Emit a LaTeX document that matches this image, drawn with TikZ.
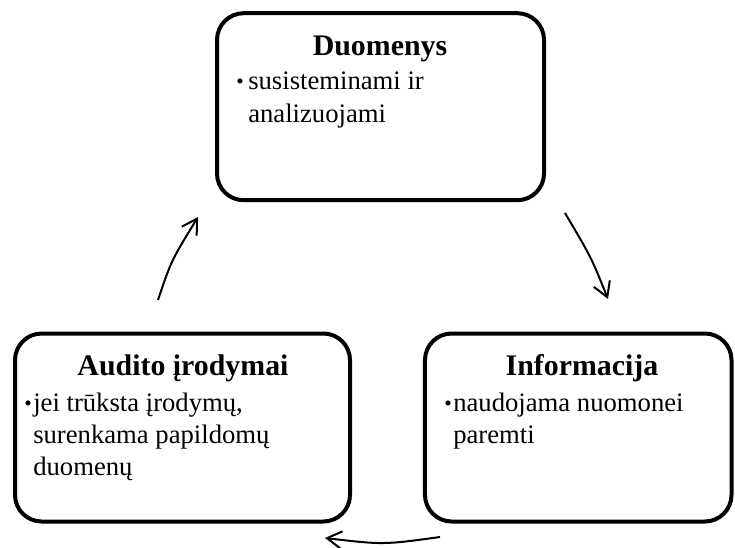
\documentclass[tikz,border=0pt]{standalone}
\usepackage{fontspec}
\setmainfont{Liberation Serif}
\usetikzlibrary{arrows.meta}

\tikzset{
  stagebox/.style={draw=black, line width=3pt, rounded corners=20pt, inner sep=0pt},
  stagetitle/.style={font=\fontsize{22.4}{26}\selectfont\bfseries, inner sep=0pt, anchor=base},
  bodyline/.style={font=\fontsize{20}{24}\selectfont, inner sep=0pt, anchor=base west},
  bulletmark/.style={font=\fontsize{16}{20}\selectfont, inner sep=0pt, anchor=base west},
  cyclearrow/.style={line width=1.5pt, -{Straight Barb[length=11pt,width=13pt,line width=1.5pt]}}
}

\begin{document}
\begin{tikzpicture}[x=0.75pt,y=-0.75pt]
  \useasboundingbox (0,0) rectangle (735,547);

  % three stages of the cycle
  \node[stagebox, minimum width=245.25pt, minimum height=140.25pt] (dbox) at (380.5,106.7) {};
  \node[stagebox, minimum width=251.25pt, minimum height=141pt] (abox) at (182.5,427.5) {};
  \node[stagebox, minimum width=229.9pt, minimum height=141pt] (ibox) at (578.25,427.5) {};

  % Duomenys
  \node[stagetitle] (dtitle) at (380,55) {Duomenys};
  \node[bulletmark] (dbul) at (236,88) {•};
  \node[bodyline] (dl1) at (248,89) {susisteminami ir};
  \node[bodyline] (dl2) at (248,122) {analizuojami};

  % Informacija
  \node[stagetitle] (ititle) at (582,375) {Informacija};
  \node[bulletmark] (ibul) at (444,410) {•};
  \node[bodyline] (il1) at (453,411) {naudojama nuomonei};
  \node[bodyline] (il2) at (453,443) {paremti};

  % Audito irodymai
  \node[stagetitle] (atitle) at (183,375) {Audito įrodymai};
  \node[bulletmark] (abul) at (24,410) {•};
  \node[bodyline] (al1) at (33,411) {jei trūksta įrodymų,};
  \node[bodyline] (al2) at (33,443) {surenkama papildomų};
  \node[bodyline] (al3) at (33,475) {duomenų};

  % arrow end points
  \coordinate (a1s) at (565,213);
  \coordinate (a1e) at (608,299);
  \coordinate (a2s) at (440,537);
  \coordinate (a2e) at (325,538);
  \coordinate (a3s) at (158,300);
  \coordinate (a3e) at (198,217);

  % clockwise arrows between the stages
  \draw[cyclearrow] (a1s) .. controls (591.2,257.3) .. (a1e);
  \draw[cyclearrow] (a2s) .. controls (383.2,544.8) .. (a2e);
  \draw[cyclearrow] (a3s) .. controls (171.3,260.5) .. (a3e);
\end{tikzpicture}
\end{document}
